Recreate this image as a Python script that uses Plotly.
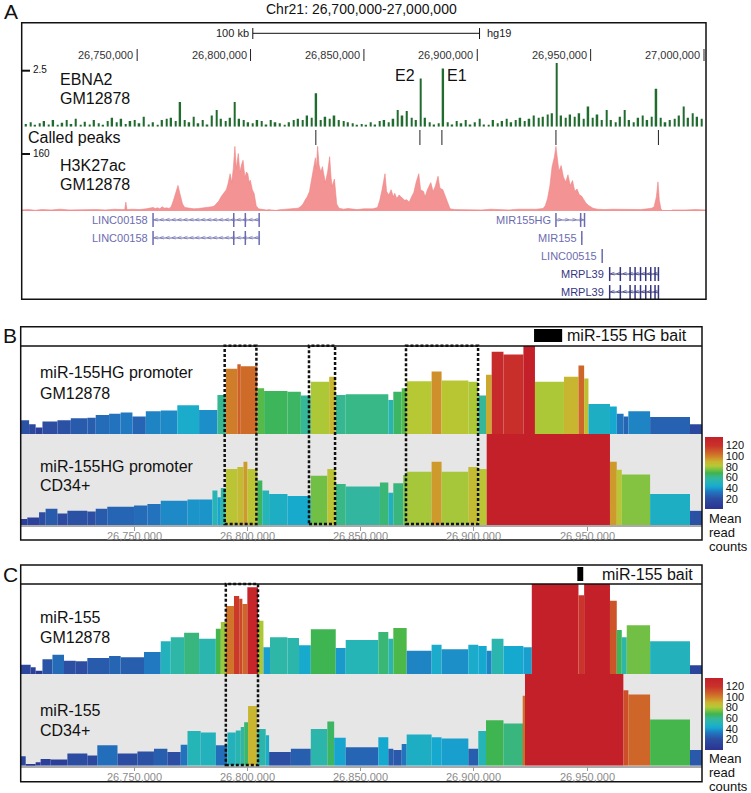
import plotly.graph_objects as go

W, H = 751, 793
REGION = 26700000  # chr21 window start (bp)

# ---------------- Panel A data ----------------
# EBNA2 ChIP-seq signal, 2 kb bins from REGION
ebna2_step = 2000
ebna2_vals = [0.12, 0.2, 0.08, 0.15, 0.25, 0.1, 0.3, 0.05, 0.18, 0.3,
              0.12, 0.35, 0.08, 0.22, 0.1, 0.3, 0.15, 0.05, 0.25, 0.4,
              0.2, 0.35, 0.12, 0.25, 0.3, 0.15, 0.45, 0.1, 0.2, 0.05,
              0.3, 0.35, 0.4, 0.25, 1.1, 0.3, 0.2, 0.45, 0.15, 0.3,
              0.1, 0.5, 0.75, 0.35, 0.25, 0.4, 1.1, 0.35, 0.3, 0.2,
              0.15, 0.3, 0.25, 0.1, 0.3, 0.2, 0.15, 0.05, 0.2, 0.3,
              0.35, 0.3, 0.5, 0.4, 1.5, 0.3, 0.45, 0.35, 0.5, 0.3,
              0.25, 0.2, 0.15, 0.05, 0.12, 0.08, 0.2, 0.1, 0.25, 0.3,
              0.2, 0.35, 0.75, 0.5, 0.7, 0.4, 0.3, 2.15, 0.4, 0.2,
              0.1, 0.15, 2.6, 0.2, 0.1, 0.25, 0.15, 0.3, 0.1, 0.2,
              0.35, 0.1, 0.05, 0.3, 0.15, 0.25, 0.35, 0.2, 0.3, 0.4,
              0.25, 0.35, 0.5, 0.4, 0.45, 0.55, 0.6, 2.85, 0.5, 0.4,
              0.55, 0.45, 0.6, 0.35, 0.9, 0.4, 0.55, 0.3, 0.75, 0.3,
              0.2, 0.45, 0.75, 0.3, 0.2, 0.4, 0.5, 0.3, 0.45, 1.7,
              0.4, 0.2, 0.3, 0.35, 0.5, 0.9, 0.4, 0.6, 0.45, 0.35]

# H3K27ac signal (kb from REGION, value); None = no data
h3_pos = [-1, 2, 5, 8, 12, 16, 20, 24, 28, 32, 36, 40, 43, 44.5, 45, 45.5, 48, 51, 54, 57,
          58, 59, 60, 61, 62, 63, 64, 65, 66, 67, 68, 69, 70, 71, 73, 75, 77, 79, 81, 83,
          84, 85, 86, 87, 88, 89.3, 90, 91, 91.7, 92.4, 93.1, 93.7, 94.6, 95.3, 96, 96.7, 97.5, 98.2, 98.8, 99.4,
          99.9, 100.8, 101.6, 102.5, 103.5, 105, 107, 108.5, None,
          111.8, 114, 117, 119, 121, 122, 123, 124, 125, 126, 127, 128, 128.6, 129, 129.6, 130.2, 131, 131.7, 132.5, 133,
          134, 134.9, 135.5, 136, 137, 137.6, 138, 139, 141, 143, 145, 147, 150, 153, 154, 156, 157, 158, 159.3, 160,
          161, 162, 163, 163.6, 164.5, 165.5, 166.8, 168, 168.9, 170, 171, 172, 173, 174.2, 175, 176.3, 177, 178, 179.5, 180.5,
          181.5, 182.7, 183.5, 184.8, 186, 187, 188, 190, 194, 198, 202, 206, 210, 214, 218, 222, 226, 229, 230, 231,
          232, 233, 234, 234.7, 235.5, 236, 237, 238, 239, 240, 241, 242, 243, 244, 245, 246, 247, 248, 249, 250,
          251, 253, 256, 260, 264, 268, 272, 275, 277, 278, 279, 279.7, 280.3, 281, 281.4, None,
          285.8, 289, 292, 296, 301]
h3_vals = [3, 4, 2, 4, 3, 5, 3, 4, 3, 4, 3, 5, 4, 4, 25, 4, 5, 4, 6, 10,
           7, 9, 6, 12, 8, 9, 7, 12, 30, 50, 72, 45, 20, 10, 8, 6, 7, 8, 10, 12,
           14, 20, 28, 40, 50, 60, 75, 105, 80, 120, 182, 120, 162, 110, 130, 143, 95, 110, 105, 80,
           87, 60, 49, 15, 6, 4, 3, 4, None,
           3, 4, 5, 6, 8, 12, 18, 30, 40, 55, 90, 130, 150, 120, 182, 130, 110, 125, 90, 80,
           110, 153, 95, 70, 90, 45, 20, 8, 5, 7, 5, 4, 6, 5, 6, 10, 30, 60, 105, 55,
           45, 60, 40, 50, 35, 45, 38, 30, 32, 25, 40, 52, 80, 105, 60, 55, 40, 60, 80, 55,
           70, 98, 65, 60, 40, 20, 6, 4, 3, 4, 3, 5, 4, 3, 5, 4, 5, 7, 15, 35,
           70, 125, 152, 182, 140, 112, 128, 96, 82, 102, 72, 86, 56, 62, 46, 42, 32, 22, 16, 12,
           8, 5, 4, 5, 4, 5, 4, 6, 8, 12, 40, 82, 30, 6, 3, None,
           3, 4, 3, 4, 3]

called_peaks = [26828800, 26874700, 26884400, 26934700, 26979900]
peak_names = {26874700: "E2", 26884400: "E1"}

a_ticks = [26750000, 26800000, 26850000, 26900000, 26950000, 27000000]
scalebar_start = 26801000
scalebar_len = 100000

gene_names = ["LINC00158", "LINC00158", "MIR155HG", "MIR155", "LINC00515", "MRPL39", "MRPL39"]
gene_start = [26757000, 26757000, 26934700, 26946000, 26955000, 26958300, 26958300]
gene_end = [26804000, 26804000, 26947500, 26946300, 26955300, 26980000, 26980000]
gene_row = [1, 2, 1, 2, 3, 4, 5]
gene_strand = ["-", "-", "+", "+", "-", "-", "-"]
gene_exons = [[26757000, 26792600, 26797700, 26803800],
              [26757000, 26792600, 26797700, 26803800],
              [26934700, 26945600, 26947300],
              [26946100],
              [26955100],
              [26958400, 26963100, 26967400, 26969600, 26972000, 26974300, 26976500, 26978400, 26979900],
              [26958400, 26963100, 26967400, 26969600, 26972000, 26974300, 26976500, 26978400, 26979900]]

# ---------------- Panels B / C data (4C mean read counts) ----------------
# segment boundaries in kb from REGION, one value per segment
b1_bounds = [0, 3.7, 6.6, 9.6, 16.2, 22.1, 29.4, 33.1, 39.0, 44.1, 49.3, 55.2, 61.8, 69.1, 78.7, 86.8,
             90.5, 95.6, 97.1, 104.4, 107.4, 117.7, 123.6, 128.0, 136.1, 139.0, 143.4, 162.2, 164.4,
             168.1, 170.3, 181.3, 185.7, 197.5, 201.9, 205.3, 207.8, 213.0, 221.8, 226.9, 239.7,
             246.1, 248.6, 250.5, 260.0, 263.0, 266.0, 268.1, 277.7, 295.3, 300.6]
b1_vals = [21, 15, 10, 19, 21, 24, 25, 29, 31, 33, 27, 35, 36, 44, 37, 60, 100, 107, 104, 70,
           66, 65, 59, 80, 88, 60, 61, 52, 65, 70, 81, 96, 82, 80, 59, 91, 126, 122, 160, 80,
           88, 105, 85, 46, 42, 31, 27, 35, 26, 15]

b2_bounds = [0, 2.9, 8.1, 11.0, 16.2, 20.6, 29.4, 33.1, 38.2, 50.0, 55.9, 61.8, 73.6, 78.7, 84.6,
             86.8, 88.3, 90.5, 95.6, 98.3, 100.0, 104.4, 106.6, 109.6, 117.7, 128.0, 135.3, 139.0,
             143.4, 158.5, 162.2, 164.4, 168.8, 170.3, 181.3, 185.7, 197.5, 201.9, 205.6, 260.0,
             263.0, 265.2, 277.7, 295.3, 300.6]
b2_vals = [9, 11, 19, 24, 17, 21, 20, 24, 27, 29, 31, 36, 38, 38, 51, 41, 55, 83, 86, 94,
           83, 66, 51, 46, 43, 73, 83, 61, 57, 63, 48, 62, 74, 79, 94, 79, 86, 83, 160, 94,
           82, 75, 46, 21]

c1_bounds = [0, 4.4, 6.6, 9.6, 14.0, 19.1, 24.3, 29.4, 39.0, 44.1, 54.4, 61.8, 66.2, 72.1, 78.7,
             86.1, 88.3, 90.5, 94.1, 96.4, 97.8, 100.0, 104.7, 107.1, 110.0, 117.7, 122.8, 128.0,
             139.0, 143.4, 157.8, 162.2, 164.4, 170.3, 181.3, 185.7, 197.5, 201.9, 205.6, 207.8,
             213.0, 221.8, 225.5, 246.1, 248.6, 260.0, 263.0, 265.2, 267.4, 277.7, 295.3, 300.6]
c1_vals = [14, 10, 5, 22, 29, 20, 19, 24, 27, 25, 33, 49, 55, 62, 53, 68, 78, 102, 117, 113,
           105, 130, 80, 40, 55, 54, 43, 67, 39, 51, 63, 53, 69, 35, 44, 37, 44, 42, 35, 53,
           42, 40, 160, 118, 160, 110, 66, 55, 73, 49, 13]

c2_bounds = [0, 2.2, 6.6, 8.8, 13.2, 20.6, 29.4, 33.8, 42.7, 51.5, 58.8, 64.7, 70.6, 73.6, 79.4,
             86.1, 91.2, 94.9, 97.1, 98.6, 100.3, 104.4, 108.1, 109.6, 119.2, 128.0, 135.3, 138.3,
             143.4, 157.8, 162.2, 164.4, 168.1, 170.3, 181.3, 185.7, 197.5, 201.9, 205.3, 213.0,
             221.8, 222.5, 265.9, 268.1, 277.7, 295.3, 300.6]
c2_vals = [14, 2, 5, 10, 9, 18, 15, 30, 18, 21, 25, 20, 31, 51, 49, 30, 49, 52, 57, 64,
           88, 54, 45, 20, 25, 54, 65, 41, 27, 42, 25, 23, 32, 46, 42, 40, 25, 51, 67, 62,
           103, 160, 111, 105, 68, 23]

bc_ticks = [26750000, 26800000, 26850000, 26900000, 26950000]
b_highlights = [(26790000, 26804000), (26827200, 26838700), (26870000, 26901800)]
c_highlights = [(26790500, 26804700)]
b_bait = (26926500, 26938900)
c_bait = (26945600, 26948200)

colorbar_ticks = [20, 40, 60, 80, 100, 120]

# ---------------- helpers ----------------
def px(x):
    return x / W

def py(y):
    return 1 - y / H

SANS = "Liberation Sans, Arial, sans-serif"
NARROW = "Liberation Sans Narrow, Arial Narrow, Liberation Sans, sans-serif"
GENE_COL = "#6b6bb0"

jet = [[0.0, "#2b3390"], [0.15, "#2c4fa3"], [0.24, "#2176c0"], [0.31, "#16a9d0"],
       [0.38, "#27b5b5"], [0.44, "#36b796"], [0.50, "#3fb54c"], [0.56, "#88c440"],
       [0.60, "#b6c935"], [0.66, "#cbb32f"], [0.72, "#d0892a"], [0.78, "#cf6529"],
       [0.88, "#c9322a"], [1.0, "#c4202a"]]


def seg_bars(bounds, vals, xa, ya, cax):
    x = [REGION + (bounds[i] + bounds[i + 1]) * 500 for i in range(len(vals))]
    w = [(bounds[i + 1] - bounds[i]) * 1000 for i in range(len(vals))]
    return go.Bar(x=x, y=vals, width=w, xaxis=xa, yaxis=ya,
                  marker=dict(color=vals, coloraxis=cax, line=dict(width=0)),
                  hoverinfo="skip")


fig = go.Figure()
shapes = []
ann = []

# ---- Panel A traces ----
fig.add_trace(go.Bar(
    x=[REGION + ebna2_step * i + ebna2_step / 2 for i in range(len(ebna2_vals))],
    y=ebna2_vals, width=700, xaxis="x", yaxis="y",
    marker=dict(color="#226b2e", line=dict(width=0))))

fig.add_trace(go.Scatter(
    x=[None if p is None else REGION + p * 1000 for p in h3_pos], y=h3_vals,
    xaxis="x", yaxis="y2", mode="lines", fill="tozeroy",
    line=dict(color="#f08484", width=0.6), fillcolor="#f39393", connectgaps=False))

for p in called_peaks:
    shapes.append(dict(type="line", xref="x", yref="paper", x0=p, x1=p,
                       y0=py(130), y1=py(145), line=dict(color="#222", width=1)))
    if p in peak_names:
        right = peak_names[p] == "E2"
        ann.append(dict(x=p, y=py(75), xref="x", yref="paper", text=peak_names[p],
                        xanchor="right" if right else "left", yanchor="middle",
                        xshift=-3 if right else 3,
                        showarrow=False, font=dict(size=16, family=SANS, color="#111")))

# genes
for name, s, e, row, strand, exons in zip(gene_names, gene_start, gene_end, gene_row,
                                         gene_strand, gene_exons):
    col = "#36367f" if name == "MRPL39" else GENE_COL
    fig.add_trace(go.Scatter(x=[s, e], y=[row, row], xaxis="x", yaxis="y7", mode="lines",
                             line=dict(color=col, width=1)))
    fig.add_trace(go.Scatter(x=exons, y=[row] * len(exons), xaxis="x", yaxis="y7",
                             mode="markers",
                             marker=dict(symbol="line-ns", size=10,
                                         line=dict(color=col, width=1.5))))
    if e - s > 5000:
        n = int((e - s) / 2600)
        ax = [s + (e - s) * (k + 0.5) / n for k in range(n)]
        fig.add_trace(go.Scatter(x=ax, y=[row] * n, xaxis="x", yaxis="y7", mode="text",
                                 text=["<" if strand == "-" else ">"] * n,
                                 textfont=dict(size=8, color=col, family=SANS)))
    ann.append(dict(x=s, y=row, xref="x", yref="y7", text=name, xanchor="right",
                    yanchor="middle", xshift=-3,
                    showarrow=False, font=dict(size=11, family=NARROW, color=col)))

# ---- Panel B / C traces ----
fig.add_trace(seg_bars(b1_bounds, b1_vals, "x2", "y3", "coloraxis"))
fig.add_trace(seg_bars(b2_bounds, b2_vals, "x2", "y4", "coloraxis"))
fig.add_trace(seg_bars(c1_bounds, c1_vals, "x3", "y5", "coloraxis2"))
fig.add_trace(seg_bars(c2_bounds, c2_vals, "x3", "y6", "coloraxis2"))

# ---- frames and decorations ----
def box(x0, y0, x1, y1, **kw):
    d = dict(type="rect", xref="paper", yref="paper", x0=px(x0), x1=px(x1),
             y0=py(y1), y1=py(y0), line=dict(color="#111", width=1.5))
    d.update(kw)
    return d

shapes.append(box(20.7, 434, 702, 525, fillcolor="#e6e6e6", line=dict(width=0), layer="below"))
shapes.append(box(20.7, 674, 702, 765.7, fillcolor="#e6e6e6", line=dict(width=0), layer="below"))
shapes.append(box(21.7, 22.7, 706, 299.3))
shapes.append(box(20.7, 326.7, 702, 540))
shapes.append(box(20.7, 565, 702, 781.7))
for yy in (346, 584):
    shapes.append(dict(type="line", xref="paper", yref="paper", x0=px(20.7), x1=px(702),
                       y0=py(yy), y1=py(yy), line=dict(color="#111", width=1.5)))

# scale bar
shapes.append(dict(type="line", xref="x", yref="paper", x0=scalebar_start,
                   x1=scalebar_start + scalebar_len, y0=py(33.3), y1=py(33.3),
                   line=dict(color="#111", width=1)))
for xx in (scalebar_start, scalebar_start + scalebar_len):
    shapes.append(dict(type="line", xref="x", yref="paper", x0=xx, x1=xx,
                       y0=py(28), y1=py(39), line=dict(color="#111", width=1)))
ann.append(dict(x=scalebar_start, y=py(33.3), xref="x", yref="paper", text="100 kb",
                xanchor="right", yanchor="middle", xshift=-2, showarrow=False,
                font=dict(size=11, family=NARROW, color="#222")))
ann.append(dict(x=scalebar_start + scalebar_len, y=py(33.3), xref="x", yref="paper",
                text="hg19", xanchor="left", yanchor="middle", xshift=5, showarrow=False,
                font=dict(size=11, family=NARROW, color="#222")))

for t in a_ticks:
    shapes.append(dict(type="line", xref="x", yref="paper", x0=t, x1=t,
                       y0=py(49), y1=py(61), line=dict(color="#222", width=1)))
    ann.append(dict(x=t, y=py(55), xref="x", yref="paper", text=f"{t:,}", xanchor="right",
                    yanchor="middle", xshift=-2, showarrow=False,
                    font=dict(size=11, family=NARROW, color="#333")))

# track scale marks
for yy, lab in ((70.7, "2.5"), (154, "160")):
    shapes.append(dict(type="line", xref="paper", yref="paper", x0=px(21.7), x1=px(30),
                       y0=py(yy), y1=py(yy), line=dict(color="#111", width=2)))
    ann.append(dict(x=px(31), y=py(yy - 1), xref="paper", yref="paper", text=lab,
                    xanchor="left", yanchor="middle", showarrow=False,
                    font=dict(size=10, family=SANS, color="#111")))

def label(x, y, text, size=16, anchor="left", family=SANS, color="#111"):
    ann.append(dict(x=px(x), y=py(y), xref="paper", yref="paper", text=text,
                    xanchor=anchor, yanchor="middle", showarrow=False,
                    font=dict(size=size, family=family, color=color)))

label(58, 80, "EBNA2")
label(58, 99, "GM12878")
label(26, 137, "Called peaks")
label(58, 165, "H3K27ac")
label(58, 184, "GM12878")
label(38, 373, "miR-155HG promoter")
label(38, 393, "GM12878")
label(38, 466, "miR-155HG promoter")
label(38, 486, "CD34+")
label(38, 617, "miR-155")
label(38, 637, "GM12878")
label(38, 710, "miR-155")
label(38, 730, "CD34+")
label(565, 335.5, "miR-155 HG bait", size=16)
label(600, 574, "miR-155 bait", size=16)
for y0, tx in ((518, "Mean"), (532, "read"), (546, "counts"),
               (758, "Mean"), (772, "read"), (786, "counts")):
    label(707, y0, tx, size=13)
label(2, 12, "A", size=21)
label(1, 336, "B", size=21)
label(1, 574, "C", size=21)
label(361, 9, "Chr21: 26,700,000-27,000,000", size=14, anchor="center")

# B / C genomic coordinate labels
for xr, yy in (("x2", 536), ("x3", 777)):
    for t in bc_ticks:
        ann.append(dict(x=t, y=py(yy), xref=xr, yref="paper", text=f"{t:,}",
                        xanchor="center", yanchor="middle", showarrow=False,
                        font=dict(size=11, family=SANS, color="#8c8c8c")))

# bait boxes and highlighted regions
for (b0, b1), xr, (ya, yb) in ((b_bait, "x2", (329, 342)), (c_bait, "x3", (567, 581))):
    shapes.append(dict(type="rect", xref=xr, yref="paper", x0=b0, x1=b1, y0=py(yb),
                       y1=py(ya), fillcolor="#000", line=dict(width=0)))
for hl, xr, (ya, yb) in ((b_highlights, "x2", (345.7, 524)), (c_highlights, "x3", (584, 765))):
    for h0, h1 in hl:
        shapes.append(dict(type="rect", xref=xr, yref="paper", x0=h0, x1=h1, y0=py(yb),
                           y1=py(ya), line=dict(color="#111", width=2.5, dash="3px,2px")))

hidden = dict(visible=False, showgrid=False, zeroline=False)
bc_x = dict(range=[REGION, REGION + 300600], domain=[px(20.7), px(702)],
            tickvals=bc_ticks, showticklabels=False, ticks="outside",
            ticklen=4, tickcolor="#999", showline=True, linecolor="#aaa", linewidth=1.5,
            showgrid=False, zeroline=False)

def cbar(ymid):
    return dict(cmin=0, cmax=135, colorscale=jet,
                colorbar=dict(x=px(705), xanchor="left", xpad=0, ypad=0, thickness=18,
                              lenmode="pixels", len=72, y=py(ymid), yanchor="middle",
                              tickvals=colorbar_ticks, ticks="", outlinewidth=0,
                              tickfont=dict(size=11, family=SANS, color="#111")))

fig.update_layout(
    width=W, height=H, margin=dict(l=0, r=0, t=0, b=0),
    paper_bgcolor="white", plot_bgcolor="rgba(0,0,0,0)",
    showlegend=False, barmode="overlay", hovermode=False,
    xaxis=dict(range=[26699070, 27000880], domain=[px(21.7), px(706)], anchor="y", **hidden),
    yaxis=dict(range=[0, 2.95], domain=[py(126.7), py(60.7)], anchor="x", **hidden),
    yaxis2=dict(range=[0, 186], domain=[py(211), py(145)], anchor="x", **hidden),
    yaxis7=dict(range=[5.44, 0.5], domain=[py(300), py(211)], anchor="x", **hidden),
    xaxis2=dict(anchor="y4", **bc_x),
    yaxis3=dict(range=[0, 135], domain=[py(434), py(346)], anchor="x2", **hidden),
    yaxis4=dict(range=[0, 135], domain=[py(525), py(434)], anchor="x2", **hidden),
    xaxis3=dict(anchor="y6", **bc_x),
    yaxis5=dict(range=[0, 135], domain=[py(674), py(584)], anchor="x3", **hidden),
    yaxis6=dict(range=[0, 135], domain=[py(765.7), py(674)], anchor="x3", **hidden),
    coloraxis=cbar(473.5),
    coloraxis2=cbar(714),
    shapes=shapes, annotations=ann,
)

fig.write_html("out.html", config={"displayModeBar": False},
               post_script="document.body.style.margin='0';document.body.style.padding='0';")
